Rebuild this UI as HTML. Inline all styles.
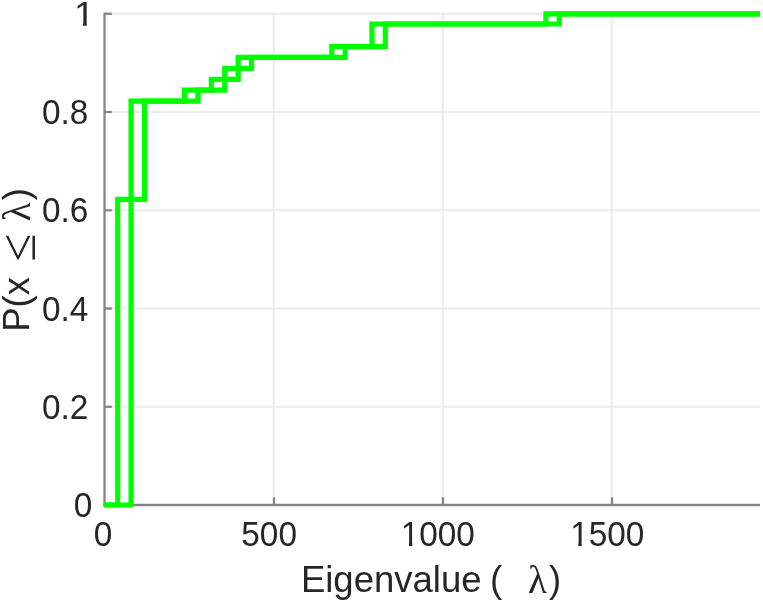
<!DOCTYPE html>
<html><head><meta charset="utf-8"><title>Eigenvalue CDF</title>
<style>
html,body{margin:0;padding:0;background:#fff;}
svg{display:block;}
text{font-family:"Liberation Sans",Arial,Helvetica,sans-serif;fill:#262626;}
.tl{font-size:33.3px;}
.lab{font-size:36.5px;}
.lam{font-family:"Liberation Serif","DejaVu Serif",serif;font-size:39px;}
.leq{font-family:"Liberation Serif","DejaVu Serif",serif;font-size:51px;}
</style></head>
<body>
<svg width="763" height="600" viewBox="0 0 763 600">
<defs>
<clipPath id="one">
<rect x="0" y="-24.97" width="19.98" height="22.38"/>
<rect x="8.16" y="-3.00" width="3.33" height="3.33"/>
</clipPath>
<clipPath id="one4">
<rect x="0" y="-24.97" width="76.59" height="22.38"/>
<rect x="8.16" y="-3.00" width="3.33" height="3.33"/>
<rect x="18.32" y="-3.00" width="58.27" height="4.33"/>
</clipPath>
</defs>
<rect width="763" height="600" fill="#ffffff"/>
<g>
<g stroke="#ebebeb" stroke-width="2" fill="none">
<line x1="273.7" y1="13" x2="273.7" y2="504"/>
<line x1="442.7" y1="13" x2="442.7" y2="504"/>
<line x1="611.7" y1="13" x2="611.7" y2="504"/>
<line x1="105" y1="406.8" x2="760" y2="406.8"/>
<line x1="105" y1="308.5" x2="760" y2="308.5"/>
<line x1="105" y1="210.3" x2="760" y2="210.3"/>
<line x1="105" y1="112.0" x2="760" y2="112.0"/>
<line x1="105" y1="13.8" x2="760" y2="13.8"/>
</g>
<g stroke="#858585" stroke-width="2.3" fill="none">
<line x1="104.5" y1="12.7" x2="104.5" y2="506.1"/>
<line x1="103.4" y1="505" x2="760" y2="505"/>
<line x1="274" y1="505" x2="274" y2="497.3"/>
<line x1="443" y1="505" x2="443" y2="497.3"/>
<line x1="612" y1="505" x2="612" y2="497.3"/>
<line x1="104.5" y1="406.8" x2="111.8" y2="406.8"/>
<line x1="104.5" y1="308.5" x2="111.8" y2="308.5"/>
<line x1="104.5" y1="210.3" x2="111.8" y2="210.3"/>
<line x1="104.5" y1="112.0" x2="111.8" y2="112.0"/>
<line x1="104.5" y1="13.8" x2="111.8" y2="13.8"/>
</g>
<g stroke="#00ff00" stroke-width="5.2" fill="none" stroke-linejoin="miter" stroke-linecap="butt">
<path d="M104.32 505.00 L117.70 505.00 L117.70 199.36 L131.08 199.36 L131.08 101.12 L184.61 101.12 L184.61 90.21 L211.37 90.21 L211.37 79.29 L224.75 79.29 L224.75 68.38 L238.13 68.38 L238.13 57.46 L331.80 57.46 L331.80 46.55 L371.94 46.55 L371.94 24.00 L545.89 24.00 L545.89 13.80 L760.00 13.80"/>
<path d="M104.32 505.00 L131.08 505.00 L131.08 199.36 L144.46 199.36 L144.46 101.12 L197.99 101.12 L197.99 90.21 L224.75 90.21 L224.75 79.29 L238.13 79.29 L238.13 68.38 L251.51 68.38 L251.51 57.46 L345.18 57.46 L345.18 46.55 L385.32 46.55 L385.32 24.00 L559.27 24.00 L559.27 13.80 L760.00 13.80"/>
</g>
<g>
<text class="tl" transform="translate(88.30 124.24) scale(1 1.044)" text-anchor="end">0.8</text>
<text class="tl" transform="translate(88.30 222.48) scale(1 1.044)" text-anchor="end">0.6</text>
<text class="tl" transform="translate(88.30 320.72) scale(1 1.044)" text-anchor="end">0.4</text>
<text class="tl" transform="translate(88.30 418.96) scale(1 1.044)" text-anchor="end">0.2</text>
<text class="tl" transform="translate(92.20 517.20) scale(1 1.044)" text-anchor="end">0</text>
<text class="tl" transform="translate(73.90 25.50) scale(1.12 1.044)" clip-path="url(#one)">1</text>
</g>
<g>
<text class="tl" transform="translate(93.70 545.60) scale(1 1.044)">0</text>
<text class="tl" transform="translate(241.35 545.60) scale(1 1.044)">500</text>
<text class="tl" transform="translate(400.80 545.60) scale(1 1.044)" clip-path="url(#one4)">1000</text>
<text class="tl" transform="translate(570.20 545.60) scale(1 1.044)" clip-path="url(#one4)">1500</text>
</g>
<text class="lab" x="300.9" y="591.80">Eigenvalue <tspan x="490.1">(</tspan><tspan class="lam" x="528.0" y="593.00">λ</tspan><tspan x="548.9" y="591.80">)</tspan></text>

<g transform="translate(28.5 331.8) rotate(-90)">
<text class="lab" x="0" y="0">P(x <tspan class="leq" x="70.3" y="6.5">≤</tspan> <tspan class="lam" x="110.6" y="1.2">λ</tspan><tspan x="131.5" y="0">)</tspan></text>
</g>
</g>
</svg>
</body></html>
